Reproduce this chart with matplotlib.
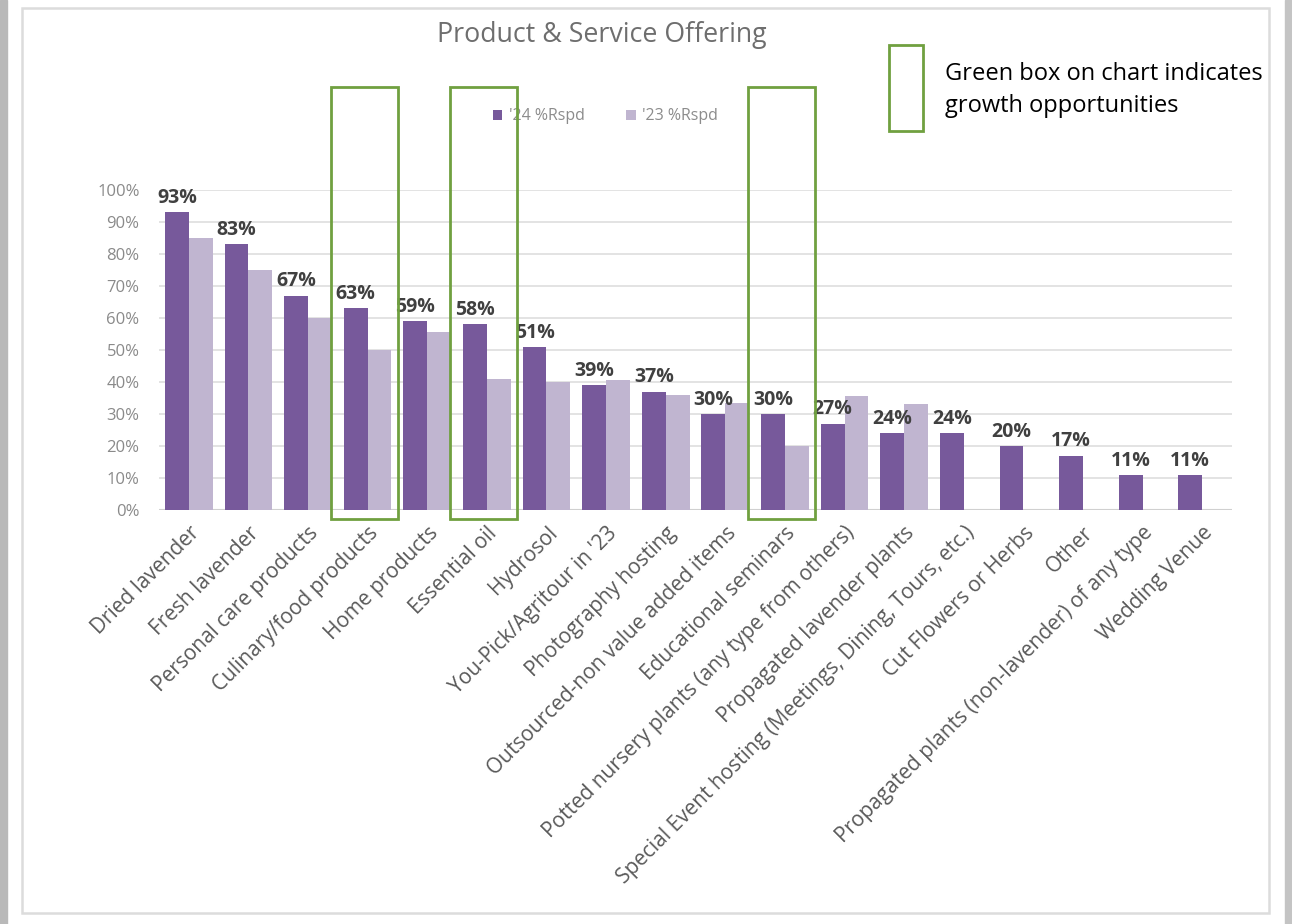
import matplotlib.pyplot as plt
import numpy as np
from matplotlib.patches import Rectangle
from matplotlib.ticker import PercentFormatter

# survey data
products = ["Dried lavender", "Fresh lavender", "Personal care products",
            "Culinary/food products", "Home products", "Essential oil",
            "Hydrosol", "You-Pick/Agritour in '23", "Photography hosting",
            "Outsourced-non value added items", "Educational seminars",
            "Potted nursery plants (any type from others)",
            "Propagated lavender plants",
            "Special Event hosting (Meetings, Dining, Tours, etc.)",
            "Cut Flowers or Herbs", "Other",
            "Propagated plants (non-lavender) of any type", "Wedding Venue"]
rspd_24 = [93, 83, 67, 63, 59, 58, 51, 39, 37, 30, 30, 27, 24, 24, 20, 17, 11, 11]
rspd_23 = [85, 75, 60, 50, 55.5, 41, 40, 40.5, 36, 33.5, 20, 35.5, 33, 0, 0, 0, 0, 0]
growth = ["Culinary/food products", "Essential oil", "Educational seminars"]

purple = "#77599b"
lilac = "#c0b5d0"
green = "#70a040"

plt.rcParams['font.family'] = ['Open Sans', 'DejaVu Sans']

fig = plt.figure(figsize=(12.92, 9.24), dpi=100, facecolor="white")
W, H = 1292, 924

# window frame
fig.patches.append(Rectangle((0, 0), 7 / W, 1, transform=fig.transFigure,
                             color="#b9b9b9", zorder=0))
fig.patches.append(Rectangle((1285 / W, 0), 7 / W, 1, transform=fig.transFigure,
                             color="#c4c4c4", zorder=0))
fig.patches.append(Rectangle((22 / W, 1 - 913 / H), 1247 / W, 905 / H,
                             transform=fig.transFigure, fill=False,
                             edgecolor="#dcdcdc", lw=1.8, zorder=0))

ax = fig.add_axes([159 / W, 1 - 510 / H, 1073 / W, 320 / H])
ax.set_zorder(2)
ax.patch.set_alpha(0)
x = np.arange(len(products))
w = 0.4
b24 = ax.bar(x - w / 2, np.array(rspd_24) / 100, w, color=purple, label="'24 %Rspd", zorder=3)
b23 = ax.bar(x + w / 2, np.array(rspd_23) / 100, w, color=lilac, label="'23 %Rspd", zorder=3)

for xi, v in zip(x, rspd_24):
    ax.annotate(f"{v}%", (xi - w / 2, v / 100), xytext=(0, 3), textcoords="offset points",
                ha="center", va="bottom", fontsize=14, fontweight="bold",
                color="#404040", zorder=5)

ax.set_xlim(-0.5, len(products) - 0.5)
ax.set_ylim(0, 1.0)
ax.set_yticks(np.arange(0, 1.01, 0.1))
ax.yaxis.set_major_formatter(PercentFormatter(1.0, decimals=0))
ax.grid(axis="y", color="#dedede", lw=1.2, zorder=0)
ax.tick_params(axis="y", length=0, labelsize=12, labelcolor="#8a8a8a", pad=14)
ax.tick_params(axis="x", length=0, pad=9)
ax.set_xticks(x)
ax.set_xticklabels(products, rotation=45, ha="right", rotation_mode="anchor",
                   fontsize=15, color="#595959")
for s in ax.spines.values():
    s.set_visible(False)
ax.axhline(0, color="#d0d0d0", lw=1.5, zorder=2)

# green boxes mark growth opportunities
for name in growth:
    i = products.index(name)
    ax.add_patch(Rectangle((i - 0.614, -0.028), 1.124, 1.35, transform=ax.transData,
                           fill=False, edgecolor=green, lw=2, clip_on=False, zorder=6))

ax.legend(loc="center", bbox_to_anchor=(0.416, 1.23), ncol=2, frameon=False,
          fontsize=11.5, labelcolor="#8c8c8c", handlelength=0.6, handleheight=0.6,
          columnspacing=2.6, handletextpad=0.4)

fig.text(602 / W, 1 - 35 / H, "Product & Service Offering", ha="center", va="center",
         fontsize=19.3, color="#6e6e6e")

# key for the green boxes
fig.patches.append(Rectangle((889 / W, 1 - 131 / H), 34 / W, 86 / H,
                             transform=fig.transFigure, fill=False,
                             edgecolor=green, lw=2))
fig.text(945 / W, 1 - 90 / H, "Green box on chart indicates\ngrowth opportunities",
         ha="left", va="center", fontsize=17, color="black", linespacing=1.4)

fig.savefig("out.png", dpi=100)
